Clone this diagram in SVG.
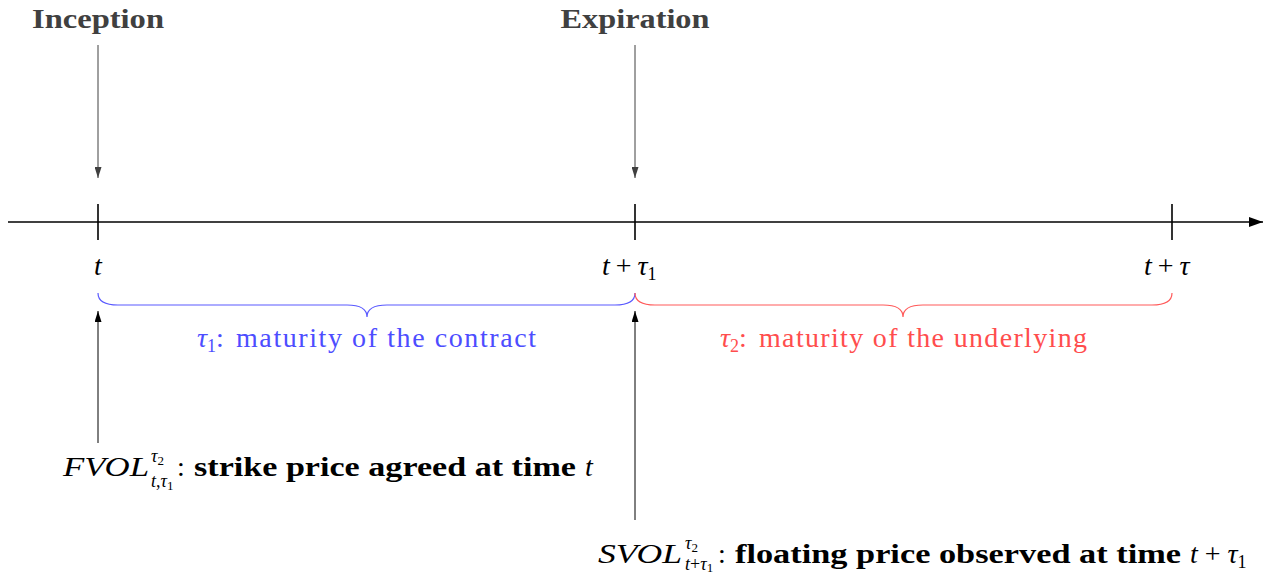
<svg xmlns="http://www.w3.org/2000/svg" width="1266" height="574" viewBox="0 0 1266 574" font-family="'Liberation Serif', 'Times New Roman', 'DejaVu Serif', serif">
<defs>
<style>
text{font-family:'Liberation Serif','Times New Roman','DejaVu Serif',serif}
.t{font-size:28px;fill:#000}
.b{font-weight:bold}
.i{font-style:italic}
.g{fill:#404040}
.sup{font-size:18px}
.ss{font-size:13px}
.blue{fill:#4d4dff}
.red{fill:#ff4d4d}
.axis{stroke:#000;stroke-width:1.6;fill:none}
.thin{stroke:#404040;stroke-width:1;fill:none}
.up{stroke:#000;stroke-width:1;fill:none}
.brace{fill:none;stroke-width:1.2}
</style>
<marker id="big" markerUnits="userSpaceOnUse" markerWidth="14" markerHeight="10" refX="14" refY="5" orient="auto"><path d="M0,0 L14,5 L0,10 z" fill="#000"/></marker>
<marker id="ag" markerUnits="userSpaceOnUse" markerWidth="11" markerHeight="7" refX="11" refY="3.5" orient="auto"><path d="M0,0 L11,3.5 L0,7 z" fill="#404040"/></marker>
<marker id="ak" markerUnits="userSpaceOnUse" markerWidth="11" markerHeight="7" refX="11" refY="3.5" orient="auto"><path d="M0,0 L11,3.5 L0,7 z" fill="#000"/></marker>
</defs>
<rect width="1266" height="574" fill="#fff"/>
<g id="connectors">
<line class="axis" x1="8" y1="222" x2="1263" y2="222" marker-end="url(#big)"/>
<line class="axis" x1="98" y1="204" x2="98" y2="240"/>
<line class="axis" x1="635" y1="204" x2="635" y2="240"/>
<line class="axis" x1="1172" y1="204" x2="1172" y2="240"/>
<line class="thin" x1="98" y1="45" x2="98" y2="178" marker-end="url(#ag)"/>
<line class="thin" x1="635" y1="45" x2="635" y2="178" marker-end="url(#ag)"/>
<line class="up" x1="98" y1="443" x2="98" y2="311" marker-end="url(#ak)"/>
<line class="up" x1="635" y1="520" x2="635" y2="311" marker-end="url(#ak)"/>
<path class="brace" stroke="#5a5aff" d="M98,293 C98,301 104,305 118,305 L347,305 C361,305 367,309 367,317 C367,309 373,305 387,305 L615,305 C629,305 635,301 635,293"/>
<path class="brace" stroke="#ff5a5a" d="M635,293 C635,301 641,305 655,305 L883,305 C897,305 903,309 903,317 C903,309 909,305 923,305 L1152,305 C1166,305 1172,301 1172,293"/>
</g>
<g id="inception"><text class="t b g" x="98" y="28" text-anchor="middle" textLength="132" lengthAdjust="spacingAndGlyphs">Inception</text></g>
<g id="expiration"><text class="t b g" x="635" y="28" text-anchor="middle" textLength="149" lengthAdjust="spacingAndGlyphs">Expiration</text></g>
<g id="tick-t"><text class="t i" x="98" y="275" text-anchor="middle">t</text></g>
<g id="tick-t-tau1">
<text class="t" x="602" y="275"><tspan class="i">t</tspan><tspan dx="6">+</tspan><tspan class="i" dx="6">τ</tspan><tspan class="sup" dy="5">1</tspan></text>
</g>
<g id="tick-t-tau">
<text class="t" x="1144" y="275"><tspan class="i">t</tspan><tspan dx="6">+</tspan><tspan class="i" dx="6">τ</tspan></text>
</g>
<g id="tau1-label">
<text class="t blue" x="197" y="347"><tspan class="i">τ</tspan><tspan class="sup" dy="5">1</tspan><tspan dy="-5">:</tspan></text>
<text class="t blue" x="236" y="347" textLength="300">maturity of the contract</text>
</g>
<g id="tau2-label">
<text class="t red" x="720" y="347"><tspan class="i">τ</tspan><tspan class="sup" dy="5">2</tspan><tspan dy="-5">:</tspan></text>
<text class="t red" x="759" y="347" textLength="328">maturity of the underlying</text>
</g>
<g id="fvol">
<text class="t i" x="63" y="476" textLength="86" lengthAdjust="spacingAndGlyphs">FVOL</text>
<text class="t sup" x="151" y="462"><tspan class="i">τ</tspan><tspan class="ss" dy="3">2</tspan></text>
<text class="t sup" x="151" y="487"><tspan class="i">t</tspan>,<tspan class="i">τ</tspan><tspan class="ss" dy="3">1</tspan></text>
<text class="t" x="177" y="476">:</text>
<text class="t b" x="194" y="476" textLength="382" lengthAdjust="spacingAndGlyphs">strike price agreed at time</text>
<text class="t i" x="585" y="476">t</text>
</g>
<g id="svol">
<text class="t i" x="598" y="563" textLength="84" lengthAdjust="spacingAndGlyphs">SVOL</text>
<text class="t sup" x="685" y="549"><tspan class="i">τ</tspan><tspan class="ss" dy="3">2</tspan></text>
<text class="t sup" x="685" y="570"><tspan class="i">t</tspan>+<tspan class="i">τ</tspan><tspan class="ss" dy="2">1</tspan></text>
<text class="t" x="718" y="563">:</text>
<text class="t b" x="735" y="563" textLength="446" lengthAdjust="spacingAndGlyphs">floating price observed at time</text>
<text class="t" x="1190" y="563"><tspan class="i">t</tspan><tspan dx="7">+</tspan><tspan class="i" dx="7">τ</tspan><tspan class="sup" dy="5">1</tspan></text>
</g>
</svg>
